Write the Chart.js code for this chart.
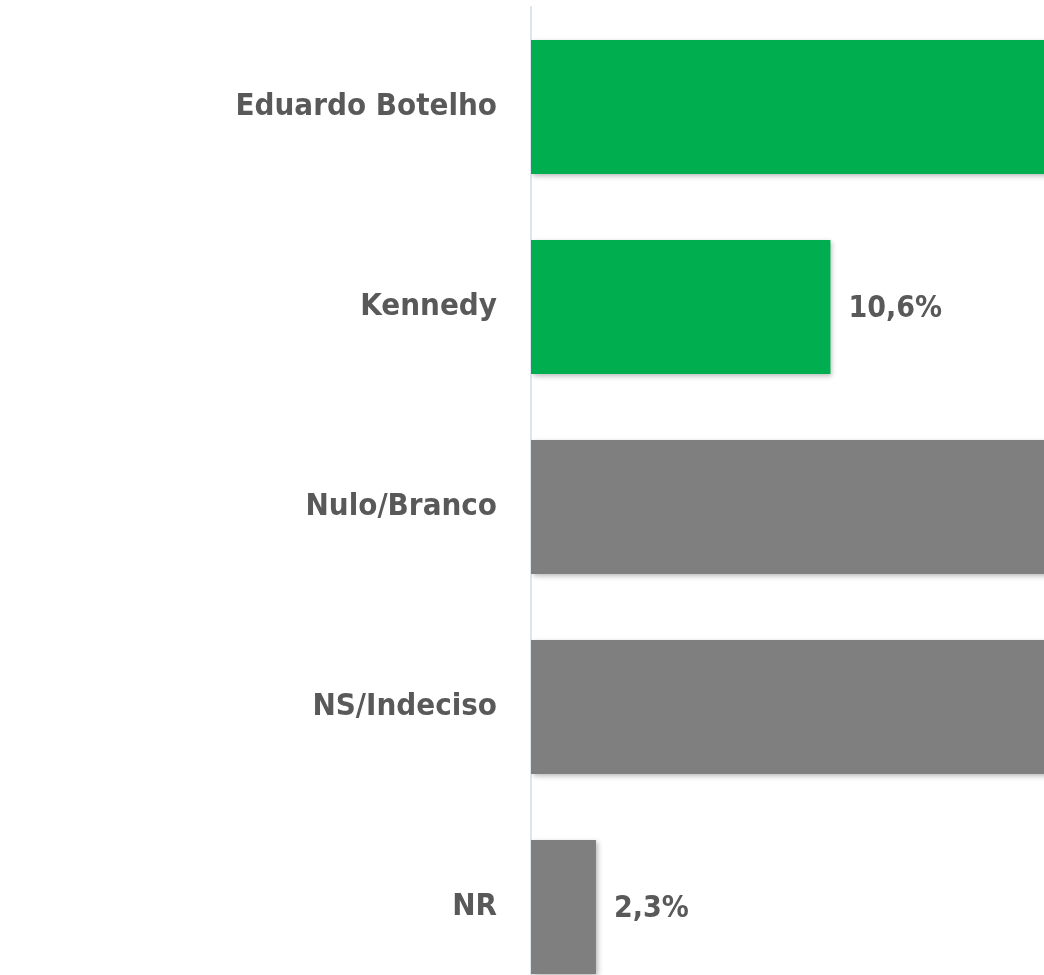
<!DOCTYPE html>
<html>
<head>
<meta charset="utf-8">
<script src="https://cdn.jsdelivr.net/npm/chart.js@4"></script>
<style>
  html, body { margin: 0; padding: 0; background: #fff; overflow: hidden; }
  #chart { display: block; }
</style>
</head>
<body>
<canvas id="chart" width="2000" height="1010"></canvas>
<script>
// candidatos / respostas
const categorias = ['Eduardo Botelho', 'Kennedy', 'Nulo/Branco', 'NS/Indeciso', 'NR']
// % (as barras maiores passam da borda da imagem, valores estimados)
const valores = [47.5, 10.6, 19.8, 19.8, 2.3]
const cores = ['#00AD4F', '#00AD4F', '#7F7F7F', '#7F7F7F', '#7F7F7F']

const fonte = '"Liberation Sans Narrow", "Arial Narrow", "DejaVu Sans Condensed", sans-serif'

// sombra leve nas barras
const sombra = {
  id: 'sombra',
  beforeDatasetsDraw(chart) {
    const ctx = chart.ctx
    ctx.save()
    ctx.shadowColor = 'rgba(0,0,0,0.28)'
    ctx.shadowBlur = 5
    ctx.shadowOffsetX = 2
    ctx.shadowOffsetY = 2
  },
  afterDatasetsDraw(chart) {
    chart.ctx.restore()
  }
}

// rotulos de valor ao lado das barras
const rotulos = {
  id: 'rotulos',
  afterDraw(chart) {
    const ctx = chart.ctx
    const meta = chart.getDatasetMeta(0)
    ctx.save()
    ctx.font = 'bold 30px ' + fonte
    ctx.fillStyle = '#595959'
    ctx.textAlign = 'left'
    ctx.textBaseline = 'middle'
    meta.data.forEach((bar, i) => {
      const txt = valores[i].toFixed(1).replace('.', ',') + '%'
      ctx.fillText(txt, bar.x + 18, bar.y + 2)
    })
    ctx.restore()
  }
}

new Chart(document.getElementById('chart'), {
  type: 'bar',
  data: {
    labels: categorias,
    datasets: [{
      data: valores,
      backgroundColor: cores,
      borderWidth: 0,
      categoryPercentage: 0.67,
      barPercentage: 1
    }]
  },
  options: {
    indexAxis: 'y',
    responsive: false,
    animation: false,
    layout: { padding: { top: 7, bottom: 3, left: 0, right: 0 } },
    plugins: {
      legend: { display: false },
      tooltip: { enabled: false }
    },
    scales: {
      x: {
        display: false,
        min: 0,
        max: 52
      },
      y: {
        grid: { display: false },
        border: { display: true, color: '#DCE6F2', width: 2 },
        ticks: {
          padding: 26,
          color: '#595959',
          font: { family: fonte, size: 31, weight: 'bold' }
        },
        afterFit(scale) {
          scale.width = 531
          scale.paddingTop = 0
          scale.paddingBottom = 0
        }
      }
    }
  },
  plugins: [sombra, rotulos]
})
</script>
</body>
</html>
